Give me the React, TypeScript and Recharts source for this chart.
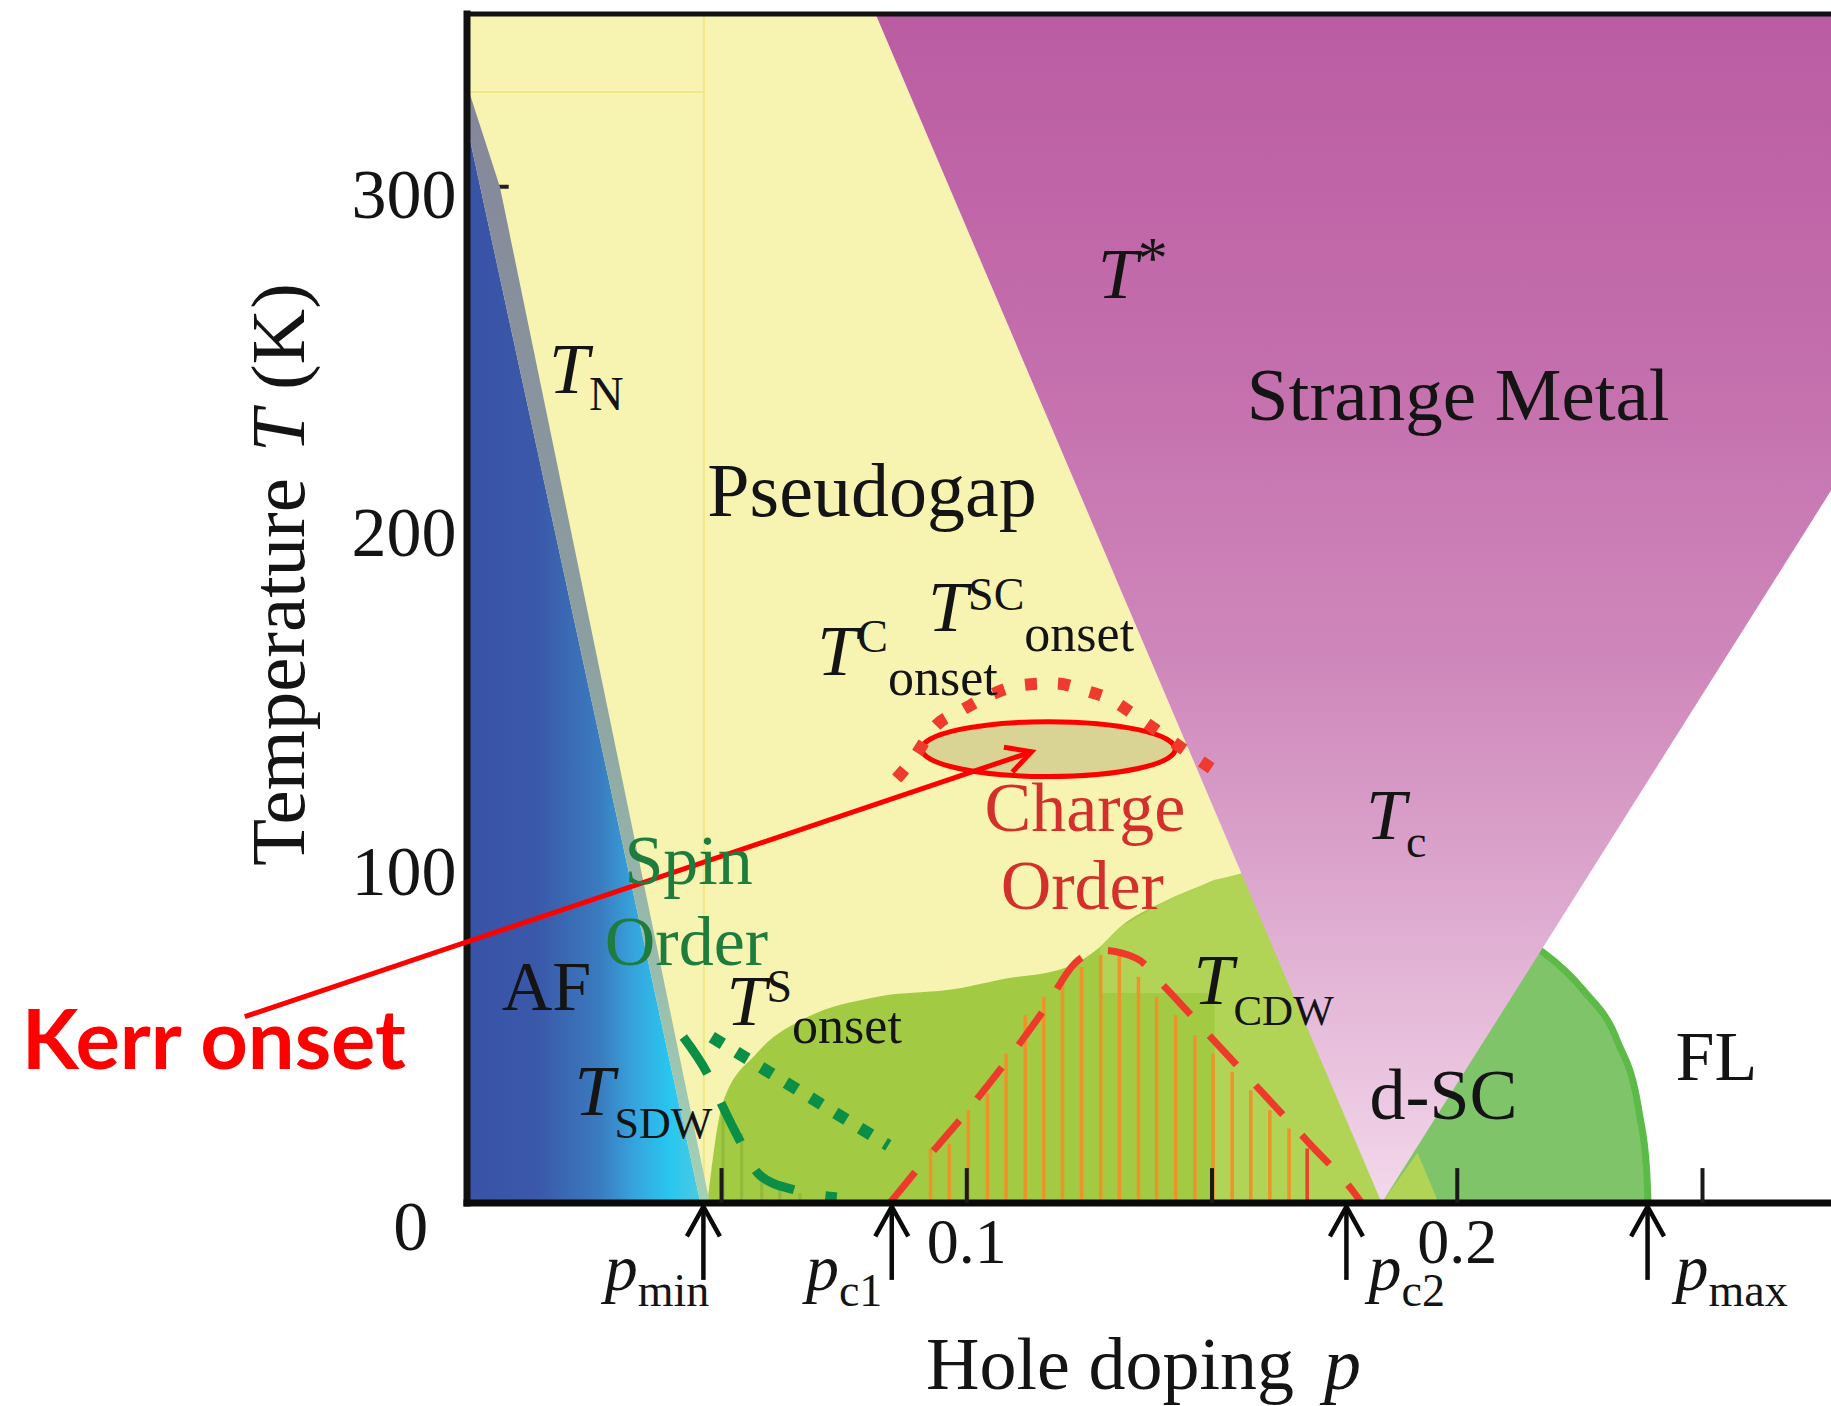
import { ComposedChart, Area, Line, XAxis, YAxis, ReferenceLine, ReferenceDot, ReferenceArea } from 'recharts';

const W = 1831;
const H = 1406;
const P_MIN = -0.0019;
const P_MAX = 0.2762;
const T_MAX = 351;

// pseudogap region, bounded by T*(p)
const pgP = [P_MIN, 0.0814, 0.1846];
const pgT = [T_MAX, T_MAX, 0];

// strange metal V (lower edge = T* then the right line)
const smP = [0.0814, 0.1846, P_MAX];
const smLo = [T_MAX, 0, 210.3];
const smHi = [T_MAX, T_MAX, T_MAX];

// AF region and the T_N band
const afP = [P_MIN, 0.0457];
const afT = [318, 0];
const tnP = [P_MIN, 0.0048, 0.0457, 0.0476];
const tnLo = [318, 273.2, 0, 0];
const tnHi = [330, 300, 13.3, 0];

// d-SC dome, overdoped side (under the V)
const odP = [0.165, 0.19, 0.205, 0.2174, 0.2257, 0.2326, 0.2371, 0.2386, 0.2389];
const odT = [100, 90, 82, 74.1, 62.8, 48.0, 26.6, 10, 0];

// d-SC dome, underdoped side
const udP = [0.0471, 0.0502, 0.0571, 0.0674, 0.081, 0.0986, 0.1067, 0.1205, 0.1271, 0.1312, 0.1407, 0.1543, 0.165, 0.1846];
const udT = [0, 29.3, 44.1, 54.8, 60.7, 63.4, 65.9, 69.7, 75.5, 81.4, 89.3, 96.6, 100, 100];

// lighter patch inside the dome
const ltP = [0.1271, 0.1312, 0.1407, 0.1505, 0.1506, 0.1543, 0.165, 0.1846];
const ltLo = [62, 62, 62, 62, 0, 0, 0, 0];
const ltHi = [75.5, 81.4, 89.3, 95.4, 95.4, 96.6, 100, 100];

// small wedge right of the V vertex
const wgP = [0.1846, 0.1919, 0.1962];
const wgT = [0, 14.8, 0];

// charge order hatching
const hatchP = [0.0926, 0.0964, 0.1003, 0.1042, 0.108, 0.1119, 0.1157, 0.1195, 0.1234, 0.1273, 0.1311, 0.135, 0.1387, 0.1426, 0.1465, 0.1502, 0.1541, 0.1579, 0.1618, 0.1657, 0.1694];
const hatchT = [16.1, 17.5, 27.4, 32.3, 44.1, 55.4, 60.9, 65.8, 69.7, 73.2, 73.2, 66.8, 60.9, 55.4, 49.5, 44.1, 38.7, 33.3, 27.4, 22.0, 16.1];

// spin order hatching
const spinP = [0.0503, 0.0541, 0.0582, 0.0619, 0.066];
const spinT = [28.3, 20.6, 9.7, 5.9, 2.9];

// T_CDW
const cdwP = [0.0843, 0.0898, 0.099, 0.1078, 0.1159, 0.122, 0.1275, 0.1346, 0.1407, 0.1503, 0.1598, 0.1696, 0.1791, 0.1805];
const cdwT = [0, 9.7, 25.2, 41.3, 57.4, 70.7, 74.6, 72.2, 63.3, 48.1, 33.3, 18.0, 2.8, 0];

// T^C onset / T^SC onset
const onP = [0.0857, 0.0891, 0.0935, 0.099, 0.1047, 0.1112, 0.118, 0.1248, 0.1288, 0.1343, 0.1401, 0.1459, 0.1499];
const onT = [125.3, 131.2, 140.6, 145.5, 149.9, 152.9, 153.4, 151.0, 149.0, 144.0, 138.1, 132.2, 128.3];

// T^S onset and T_SDW
const tsP = [0.048, 0.084];
const tsT = [49.0, 17.0];
const sdwP = [0.0422, 0.0473, 0.0503, 0.0537, 0.0578, 0.065, 0.0735];
const sdwT = [49, 37.7, 28.3, 18.5, 8.2, 3.8, 1.8];

// Kerr onset ellipse bounds and arrow
const kerrP = [0.0908, 0.1425];
const kerrT = [125.9, 142.1];
const kerrArrowP = [-0.0472, 0.1132];
const kerrArrowT = [55.0, 133.2];

// axis
const xTicks = [0.05, 0.1, 0.15, 0.2, 0.25];
const xLabels = [{ v: 0.1, s: '0.1' }, { v: 0.2, s: '0.2' }];
const yLabels = [100, 200, 300];
const markP = [0.0463, 0.0847, 0.1774, 0.2388];
const markSub = ['min', 'c1', 'c2', 'max'];
const markLabelP = [0.0262, 0.0672, 0.1819, 0.2445];

const zip = (ps: number[], ts: number[]) => ps.map((p, i) => ({ p, t: ts[i] }));
const zipRange = (ps: number[], lo: number[], hi: number[]) => ps.map((p, i) => ({ p, r: [lo[i], hi[i]] }));

const serif = '"Liberation Serif", "Times New Roman", serif';
const ink = '#141414';

type Part = { s: string; it?: boolean; size?: number; dy?: number; dx?: number };

const note = (
  key: string, p: number, t: number, parts: Part[], size: number,
  fill = ink, anchor: 'start' | 'middle' | 'end' = 'start', family = serif, weight: number = 400, rotate = 0
) => (
  <ReferenceDot
    key={key}
    x={p}
    y={t}
    r={1}
    ifOverflow="visible"
    zIndex={200}
    shape={(props: any) => (
      <text
        x={props.cx}
        y={props.cy}
        textAnchor={anchor}
        fontFamily={family}
        fontSize={size}
        fontWeight={weight}
        fill={fill}
        transform={rotate ? `rotate(${rotate} ${props.cx} ${props.cy})` : undefined}
      >
        {parts.map((pt, i) => (
          <tspan key={i} fontStyle={pt.it ? 'italic' : 'normal'} fontSize={pt.size ?? size} dy={pt.dy} dx={pt.dx}>
            {pt.s}
          </tspan>
        ))}
      </text>
    )}
  />
);

const arrow = (len: number, spread: number, width: number, color: string) => (props: any) => {
  const { x1, y1, x2, y2 } = props;
  const back = Math.atan2(y1 - y2, x1 - x2);
  const s = (spread * Math.PI) / 180;
  const ax = x2 + len * Math.cos(back + s);
  const ay = y2 + len * Math.sin(back + s);
  const bx = x2 + len * Math.cos(back - s);
  const by = y2 + len * Math.sin(back - s);
  return (
    <g>
      <line x1={x1} y1={y1} x2={x2} y2={y2} stroke={color} strokeWidth={width} />
      <polyline points={`${ax},${ay} ${x2},${y2} ${bx},${by}`} fill="none" stroke={color} strokeWidth={width} />
    </g>
  );
};

const ellipseShape = (props: any) => {
  const { x, y, width, height } = props;
  return (
    <ellipse cx={x + width / 2} cy={y + height / 2} rx={width / 2} ry={height / 2} fill="#d9d493" stroke="#ff0000" strokeWidth={5} />
  );
};

export default function App() {
  const tLab = (s: string) => ({ s, it: true, size: 72 });
  return (
    <div style={{ position: 'absolute', left: 0, top: 0, width: W, height: H, background: '#fff' }}>
      <ComposedChart width={W} height={H} margin={{ top: 14, right: 0, bottom: 203, left: 467 }}>
        <defs>
          <linearGradient id="afGrad" x1="0" y1="0" x2="1" y2="0">
            <stop offset="0" stopColor="#3953a6" />
            <stop offset="0.3" stopColor="#3a58a9" />
            <stop offset="0.57" stopColor="#3a7cc0" />
            <stop offset="0.72" stopColor="#36a5dd" />
            <stop offset="0.87" stopColor="#28c7ef" />
            <stop offset="1" stopColor="#4cc9e2" />
          </linearGradient>
          <linearGradient id="tnGrad" x1="0" y1="0" x2="0" y2="1">
            <stop offset="0" stopColor="#84869a" />
            <stop offset="0.5" stopColor="#8c9fa0" />
            <stop offset="1" stopColor="#a2d2b6" />
          </linearGradient>
          <linearGradient id="smGrad" x1="0" y1="0" x2="0" y2="1">
            <stop offset="0" stopColor="#bb5ca2" />
            <stop offset="0.3" stopColor="#c46fad" />
            <stop offset="0.55" stopColor="#cf88bb" />
            <stop offset="0.73" stopColor="#dca6cd" />
            <stop offset="0.88" stopColor="#e9c2de" />
            <stop offset="1" stopColor="#f3d8eb" />
          </linearGradient>
        </defs>
        <XAxis type="number" dataKey="p" domain={[P_MIN, P_MAX]} allowDataOverflow hide />
        <YAxis type="number" domain={[0, T_MAX]} allowDataOverflow hide />

        <Area data={zip(pgP, pgT)} dataKey="t" type="linear" fill="#f7f4b1" fillOpacity={1} stroke="none" isAnimationActive={false} zIndex={10} />
        <Area data={zip(odP, odT)} dataKey="t" type="monotone" fill="#80c46a" fillOpacity={1} stroke="#5cbb47" strokeWidth={7} isAnimationActive={false} zIndex={20} />
        <Area data={zip(udP, udT)} dataKey="t" type="monotone" fill="#a2cb43" fillOpacity={1} stroke="none" isAnimationActive={false} zIndex={30} />
        <Area data={zipRange(ltP, ltLo, ltHi)} dataKey="r" type="linear" fill="#b1d456" fillOpacity={1} stroke="none" isAnimationActive={false} zIndex={40} />
        <Area data={zip(wgP, wgT)} dataKey="t" type="linear" fill="#b2d456" fillOpacity={1} stroke="none" isAnimationActive={false} zIndex={45} />

        <ReferenceLine segment={[{ x: 0.0464, y: 0 }, { x: 0.0464, y: T_MAX }]} stroke="#efe57a" strokeWidth={2} strokeOpacity={0.8} ifOverflow="visible" zIndex={48} />
        <ReferenceLine segment={[{ x: P_MIN, y: 328 }, { x: 0.0464, y: 328 }]} stroke="#efe57a" strokeWidth={2} strokeOpacity={0.8} ifOverflow="visible" zIndex={48} />

        {spinP.map((p, i) => (
          <ReferenceLine key={`s${i}`} segment={[{ x: p, y: 0 }, { x: p, y: spinT[i] }]} stroke="#8fba3a" strokeWidth={3} ifOverflow="visible" zIndex={50} />
        ))}
        {hatchP.map((p, i) => (
          <ReferenceLine key={`h${i}`} segment={[{ x: p, y: 0 }, { x: p, y: hatchT[i] }]} stroke={i === hatchP.length - 1 ? '#e8402a' : '#f0922a'} strokeWidth={3.5} ifOverflow="visible" zIndex={55} />
        ))}

        <Area data={zipRange(smP, smLo, smHi)} dataKey="r" type="linear" fill="url(#smGrad)" fillOpacity={1} stroke="none" isAnimationActive={false} zIndex={60} />

        <ReferenceLine segment={[{ x: 0.0046, y: 300 }, { x: 0.0066, y: 300 }]} stroke="#222" strokeWidth={4} ifOverflow="visible" zIndex={62} />
        <Area data={zip(afP, afT)} dataKey="t" type="linear" fill="url(#afGrad)" fillOpacity={1} stroke="none" isAnimationActive={false} zIndex={70} />
        <Area data={zipRange(tnP, tnLo, tnHi)} dataKey="r" type="linear" fill="url(#tnGrad)" fillOpacity={1} stroke="none" isAnimationActive={false} zIndex={75} />

        <ReferenceArea x1={kerrP[0]} x2={kerrP[1]} y1={kerrT[0]} y2={kerrT[1]} ifOverflow="visible" shape={ellipseShape} zIndex={80} />

        <Line data={zip(cdwP, cdwT)} dataKey="t" type="monotone" stroke="#ee3a2a" strokeWidth={7} strokeDasharray="40 28" dot={false} activeDot={false} isAnimationActive={false} zIndex={90} />
        <Line data={zip(onP, onT)} dataKey="t" type="monotone" stroke="#ee3b2e" strokeWidth={12} strokeDasharray="12 21" dot={false} activeDot={false} isAnimationActive={false} zIndex={95} />
        <Line data={zip(tsP, tsT)} dataKey="t" type="linear" stroke="#0b8f47" strokeWidth={12} strokeDasharray="13 16" dot={false} activeDot={false} isAnimationActive={false} zIndex={96} />
        <Line data={zip(sdwP, sdwT)} dataKey="t" type="monotone" stroke="#0b8f47" strokeWidth={9} strokeDasharray="44 32" dot={false} activeDot={false} isAnimationActive={false} zIndex={97} />

        {/* frame */}
        <ReferenceLine segment={[{ x: P_MIN, y: 0 }, { x: P_MIN, y: T_MAX }]} stroke="#111" strokeWidth={7} strokeLinecap="square" ifOverflow="visible" zIndex={100} />
        <ReferenceLine segment={[{ x: P_MIN, y: T_MAX }, { x: P_MAX, y: T_MAX }]} stroke="#111" strokeWidth={5} strokeLinecap="square" ifOverflow="visible" zIndex={100} />
        <ReferenceLine segment={[{ x: P_MIN, y: 0 }, { x: P_MAX, y: 0 }]} stroke="#0a0a0a" strokeWidth={7} strokeLinecap="square" ifOverflow="visible" zIndex={100} />
        {xTicks.map((v) => (
          <ReferenceLine key={`xt${v}`} segment={[{ x: v, y: 0 }, { x: v, y: 10.3 }]} stroke="#1a1a1a" strokeWidth={4} ifOverflow="visible" zIndex={100} />
        ))}

        {markP.map((p) => (
          <ReferenceLine key={`m${p}`} segment={[{ x: p, y: -22.7 }, { x: p, y: -1.1 }]} ifOverflow="visible" zIndex={105} shape={arrow(34, 29, 4.5, '#0a0a0a')} />
        ))}
        <ReferenceLine
          segment={[{ x: kerrArrowP[0], y: kerrArrowT[0] }, { x: kerrArrowP[1], y: kerrArrowT[1] }]}
          ifOverflow="visible"
          zIndex={110}
          shape={arrow(28, 28, 5, '#ff0000')}
        />

        {/* axis labels */}
        {yLabels.map((v) => note(`y${v}`, -0.00404, v - 9.1, [{ s: String(v) }], 70, ink, 'end'))}
        {note('y0', -0.0098, -13.9, [{ s: '0' }], 70, ink, 'end')}
        {xLabels.map((l) => note(`x${l.s}`, l.v, -17.8, [{ s: l.s }], 64, ink, 'middle'))}
        {markLabelP.map((p, i) => note(`ml${i}`, p, -25.8, [{ s: 'p', it: true, size: 66 }, { s: markSub[i], size: 46, dy: 16 }], 66))}
        {note('xt', 0.0917, -55, [{ s: 'Hole doping' }, { s: 'p', it: true, dx: 30 }], 74)}
        {note('yt', -0.0352, 185.5, [{ s: 'Temperature' }, { s: 'T', it: true, dx: 26 }, { s: ' (K)' }], 77, ink, 'middle', serif, 400, -90)}

        {/* region labels */}
        {note('tn', 0.0148, 239, [tLab('T'), { s: 'N', size: 48, dy: 17 }], 72)}
        {note('pg', 0.0471, 202.8, [{ s: 'Pseudogap' }], 76)}
        {note('ts', 0.1267, 267.2, [tLab('T'), { s: '*', size: 60, dy: -20 }], 72)}
        {note('sm', 0.1571, 231, [{ s: 'Strange Metal' }], 75)}
        {note('tco', 0.0695, 155.9, [tLab('T'), { s: 'C', size: 46, dy: -23 }, { s: 'onset', size: 52, dy: 43 }], 72)}
        {note('tsco', 0.0921, 169, [tLab('T'), { s: 'SC', size: 46, dy: -21 }, { s: 'onset', size: 52, dy: 41 }], 72)}
        {note('ch', 0.1036, 109.7, [{ s: 'Charge' }], 70, '#d3302c')}
        {note('ch2', 0.1069, 86.9, [{ s: 'Order' }], 70, '#d3302c')}
        {note('sp', 0.0302, 94.1, [{ s: 'Spin' }], 70, '#1e7c3c')}
        {note('sp2', 0.0262, 70.3, [{ s: 'Order' }], 70, '#1e7c3c')}
        {note('af', 0.0052, 56.9, [{ s: 'AF' }], 70)}
        {note('tso', 0.051, 52.4, [tLab('T'), { s: 'S', size: 46, dy: -23 }, { s: 'onset', size: 52, dy: 41 }], 72)}
        {note('sdw', 0.02, 25.9, [tLab('T'), { s: 'SDW', size: 44, dy: 23 }], 72)}
        {note('cdw', 0.1462, 58.6, [tLab('T'), { s: 'CDW', size: 43, dy: 21 }], 72)}
        {note('tc', 0.1814, 107.6, [tLab('T'), { s: 'c', size: 46, dy: 18 }], 72)}
        {note('dsc', 0.1821, 24.8, [{ s: 'd-SC' }], 72)}
        {note('fl', 0.2445, 36.2, [{ s: 'FL' }], 70)}
        {note('kerr', -0.0927, 39.7, [{ s: 'Kerr onset' }], 83, '#ff0000', 'start', 'Lato, "Liberation Sans", sans-serif', 700)}
      </ComposedChart>
    </div>
  );
}
